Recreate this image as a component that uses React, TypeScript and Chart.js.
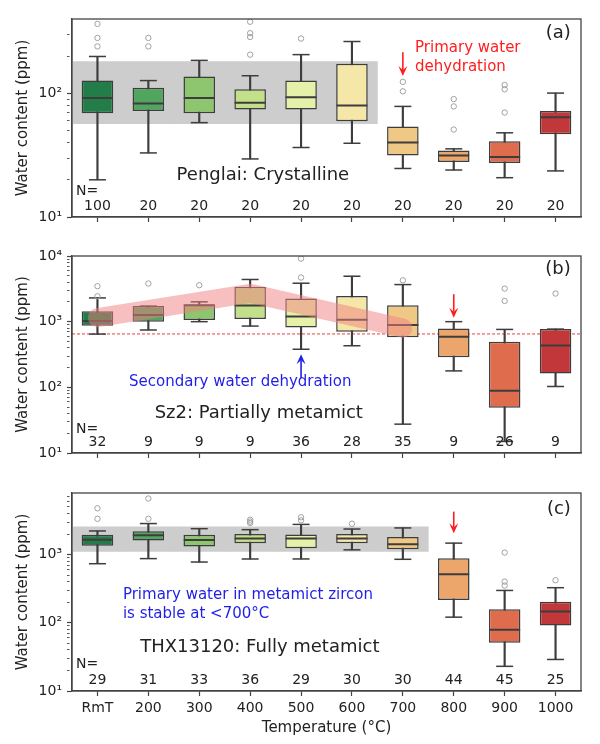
import React, { useEffect, useRef } from "react";
import { Chart, registerables } from "chart.js";

Chart.register(...registerables);
Chart.defaults.font.family = "'DejaVu Sans', sans-serif";

const temps = ["RmT", "200", "300", "400", "500", "600", "700", "800", "900", "1000"];
const boxColors = ["#237d48", "#52a55f", "#8dc66f", "#c3df8a", "#e5f1a8", "#f5e7a8", "#f0c886", "#eca56a", "#df6d4d", "#c2383a"];

// (a) Penglai: crystalline
const lowA = [20, 33, 58, 29.5, 36.5, 39.5, 24.7, 24, 20.8, 23.6];
const q1A = [69, 72, 69, 74, 74, 59.5, 31.5, 27.9, 27.4, 46.7];
const medA = [92, 83, 92, 84, 93, 80, 40, 31.5, 30.6, 64];
const q3A = [127, 111, 137, 108, 127, 174, 54, 34.5, 41, 72];
const highA = [199, 127, 185, 139, 206, 263, 78.5, 35.6, 48, 100.6];
const outA = [[365, 281, 240], [281, 240], [], [380, 307, 286, 206], [278], [], [124, 104], [90, 78.5, 51], [117, 108, 70], []];
const nA = [100, 20, 20, 20, 20, 20, 20, 20, 20, 20];
const bandA = [57, 181];

// (b) Sz2: partially metamict
const lowB = [647, 747, 1000, 857, 380, 430, 27.5, 178, 15, 103];
const q1B = [867, 1000, 1057, 1097, 818, 703, 577, 286, 49, 162];
const medB = [1020, 1260, 1780, 1766, 1200, 1070, 887, 590, 89, 435];
const q3B = [1445, 1726, 1830, 3390, 2255, 2470, 1780, 789, 495, 771];
const highB = [2300, 1726, 2005, 4390, 3850, 4920, 3670, 1000, 762, 771];
const outB = [[3470, 2440], [3810], [3590], [], [9130, 4700], [], [4260], [], [3190, 2070], [2680]];
const nB = [32, 9, 9, 9, 36, 28, 35, 9, 26, 9];
const trendB = [1150, null, null, 2700, null, null, 800, null, null, null];
const dashB = 650;

// (c) THX13120: fully metamict
const lowC = [735, 873, 778, 862, 863, 1175, 853, 121, 23, 29];
const q1C = [1345, 1615, 1315, 1472, 1243, 1472, 1200, 215, 51, 91];
const medC = [1650, 1915, 1635, 1722, 1722, 1722, 1422, 516, 79, 146];
const q3C = [1960, 2200, 1960, 2000, 1973, 2000, 1808, 883, 158, 203];
const highC = [2220, 2850, 2400, 2320, 2770, 2370, 2460, 1473, 298, 327];
const outC = [[4770, 3350], [6640, 3350], [], [3250, 3050, 2900], [3520, 3180], [2840], [], [], [1070, 402, 351], [421]];
const nC = [29, 31, 33, 36, 29, 30, 30, 44, 45, 25];
const bandC = [1110, 2550];

const decades = [10, 100, 1000, 10000];
const sup: Record<number, string> = { 10: "10¹", 100: "10²", 1000: "10³", 10000: "10⁴" };

function logTicks(max: number) {
  const out: number[] = [];
  for (const d of [10, 100, 1000]) for (let k = 1; k <= 9; k++) if (k * d < max) out.push(k * d);
  if (10000 <= max) out.push(10000);
  return out;
}

type Txt = { t: string; i: number; v: number; color?: string; size?: number; align?: CanvasTextAlign };
type Arrow = { i: number; from: number; to: number; color: string };

type PanelDef = {
  low: number[]; q1: number[]; med: number[]; q3: number[]; high: number[];
  out: number[][]; n: number[]; nY: number; nLabelY: number;
  yMax: number; band?: number[]; bandCount?: number;
  trend?: (number | null)[]; dash?: number;
  texts: Txt[]; arrows: Arrow[];
  showX: boolean; padTop: number; xHeight: number; height: number;
};

const RED = "#ff1e1e";
const BLUE = "#1f1fe8";
const EDGE = "#3d3d3d";

const panelA: PanelDef = {
  low: lowA, q1: q1A, med: medA, q3: q3A, high: highA, out: outA, n: nA, nY: 12.1, nLabelY: 16.2,
  yMax: 400, band: bandA, bandCount: 6,
  texts: [
    { t: "Penglai: Crystalline", i: 3.25, v: 21.8, size: 18, align: "center" },
    { t: "Primary water", i: 6.24, v: 232, color: RED, size: 15 },
    { t: "dehydration", i: 6.24, v: 163, color: RED, size: 15 },
    { t: "(a)", i: 9.3, v: 305, size: 18, align: "right" },
  ],
  arrows: [{ i: 6, from: 215, to: 138, color: RED }],
  showX: false, padTop: 19, xHeight: 19, height: 236,
};

const panelB: PanelDef = {
  low: lowB, q1: q1B, med: medB, q3: q3B, high: highB, out: outB, n: nB, nY: 14.4, nLabelY: 23.2,
  yMax: 10000, trend: trendB, dash: dashB,
  texts: [
    { t: "Secondary water dehydration", i: 0.62, v: 122, color: BLUE, size: 15 },
    { t: "Sz2: Partially metamict", i: 3.17, v: 40.6, size: 18, align: "center" },
    { t: "(b)", i: 9.3, v: 6290, size: 18, align: "right" },
  ],
  arrows: [
    { i: 7, from: 2620, to: 1150, color: RED },
    { i: 4, from: 140, to: 320, color: BLUE },
  ],
  showX: false, padTop: 20, xHeight: 19, height: 236,
};

const panelC: PanelDef = {
  low: lowC, q1: q1C, med: medC, q3: q3C, high: highC, out: outC, n: nC, nY: 14.1, nLabelY: 24.3,
  yMax: 8000, band: bandC, bandCount: 7,
  texts: [
    { t: "Primary water in metamict zircon", i: 0.5, v: 254, color: BLUE, size: 15 },
    { t: "is stable at <700°C", i: 0.5, v: 133, color: BLUE, size: 15 },
    { t: "THX13120: Fully metamict", i: 3.19, v: 43.8, size: 18, align: "center" },
    { t: "(c)", i: 9.3, v: 4670, size: 18, align: "right" },
  ],
  arrows: [{ i: 7, from: 4270, to: 2050, color: RED }],
  showX: true, padTop: 21, xHeight: 53, height: 272,
};

function drawArrow(ctx: CanvasRenderingContext2D, x: number, y1: number, y2: number, color: string) {
  const dir = Math.sign(y2 - y1);
  const hl = 10, hw = 4.5;
  ctx.save();
  ctx.strokeStyle = color;
  ctx.fillStyle = color;
  ctx.lineWidth = 1.6;
  ctx.beginPath();
  ctx.moveTo(x, y1);
  ctx.lineTo(x, y2 - dir * hl * 0.6);
  ctx.stroke();
  ctx.beginPath();
  ctx.moveTo(x, y2);
  ctx.lineTo(x - hw, y2 - dir * hl);
  ctx.lineTo(x, y2 - dir * hl * 0.6);
  ctx.lineTo(x + hw, y2 - dir * hl);
  ctx.closePath();
  ctx.fill();
  ctx.restore();
}

function buildConfig(p: PanelDef): any {
  const yTicks = logTicks(p.yMax);
  const datasets: any[] = [];
  if (p.band) {
    datasets.push({
      type: "bar", data: temps.map((_, k) => (k < (p.bandCount || 0) ? [p.band![0], p.band![1]] : null)),
      backgroundColor: "#cdcdcd", borderWidth: 0, grouped: false, categoryPercentage: 1, barPercentage: 1, order: 6,
    });
  }
  datasets.push({
    type: "bar", data: temps.map((_, k) => [p.low[k], p.high[k]]),
    backgroundColor: EDGE, barThickness: 1.5, grouped: false, order: 5,
  });
  datasets.push({
    type: "bar", data: temps.map((_, k) => [p.q1[k], p.q3[k]]),
    backgroundColor: boxColors, borderColor: EDGE, borderWidth: 1.5, borderSkipped: false,
    grouped: false, categoryPercentage: 1, barPercentage: 0.62, order: 4,
  });
  datasets.push({
    type: "line", data: p.med, showLine: false, pointStyle: "line", pointRadius: 15.5,
    pointBorderWidth: 2, pointBorderColor: EDGE, order: 3,
  });
  datasets.push({
    type: "line", showLine: false, pointStyle: "line", pointRadius: 8.5, pointBorderWidth: 1.5,
    pointBorderColor: EDGE, order: 3,
    data: temps.flatMap((t, k) => [{ x: t, y: p.low[k] }, { x: t, y: p.high[k] }]),
  });
  datasets.push({
    type: "line", showLine: false, pointStyle: "circle", pointRadius: 2.7, pointBorderWidth: 1,
    pointBorderColor: "#a0a0a0", pointBackgroundColor: "rgba(0,0,0,0)", order: 2,
    data: temps.flatMap((t, k) => p.out[k].map((v) => ({ x: t, y: v }))),
  });
  if (p.trend) {
    datasets.push({
      type: "line", data: p.trend, spanGaps: true, borderColor: "rgba(240,128,128,0.5)", borderWidth: 19,
      borderCapStyle: "round", borderJoinStyle: "round", pointRadius: 0, fill: false, order: 1,
    });
  }

  const decor = {
    id: "decor",
    beforeDatasetsDraw(chart: any) {
      if (p.dash === undefined) return;
      const { ctx, chartArea } = chart;
      const y = chart.scales.y.getPixelForValue(p.dash);
      ctx.save();
      ctx.strokeStyle = "rgba(235,40,40,0.9)";
      ctx.lineWidth = 1;
      ctx.setLineDash([3, 2]);
      ctx.beginPath();
      ctx.moveTo(chartArea.left, y);
      ctx.lineTo(chartArea.right, y);
      ctx.stroke();
      ctx.restore();
    },
    afterDraw(chart: any) {
      const { ctx, chartArea } = chart;
      const xs = chart.scales.x;
      const ys = chart.scales.y;
      ctx.save();
      ctx.strokeStyle = "#444";
      ctx.lineWidth = 1.3;
      ctx.strokeRect(chartArea.left, chartArea.top, chartArea.right - chartArea.left, chartArea.bottom - chartArea.top);
      ctx.textBaseline = "middle";
      ctx.fillStyle = "#222";
      ctx.font = "14px 'DejaVu Sans'";
      ctx.textAlign = "left";
      ctx.fillText("N=", xs.getPixelForValue(-0.42), ys.getPixelForValue(p.nLabelY));
      ctx.textAlign = "center";
      p.n.forEach((n, k) => ctx.fillText(String(n), xs.getPixelForValue(k), ys.getPixelForValue(p.nY)));
      for (const t of p.texts) {
        ctx.fillStyle = t.color || "#222";
        ctx.font = `${t.size || 14}px 'DejaVu Sans'`;
        ctx.textAlign = t.align || "left";
        ctx.fillText(t.t, xs.getPixelForValue(t.i), ys.getPixelForValue(t.v));
      }
      ctx.restore();
      for (const a of p.arrows) {
        drawArrow(ctx, xs.getPixelForValue(a.i), ys.getPixelForValue(a.from), ys.getPixelForValue(a.to), a.color);
      }
    },
  };

  return {
    type: "bar",
    data: { labels: temps, datasets },
    plugins: [decor],
    options: {
      responsive: false,
      animation: false,
      events: [],
      layout: { padding: { top: p.padTop, right: 19, left: 0, bottom: 0 } },
      plugins: { legend: { display: false }, tooltip: { enabled: false } },
      scales: {
        x: {
          type: "category", offset: true,
          grid: { display: true, drawOnChartArea: false, offset: false, tickLength: 5, tickWidth: 1.2, tickColor: "#444" },
          border: { display: true, color: "#444", width: 1.3 },
          ticks: { display: p.showX, color: "#222", font: { size: 14 }, padding: 4, maxRotation: 0, autoSkip: false },
          title: { display: p.showX, text: "Temperature (°C)", color: "#222", font: { size: 15 }, padding: { top: 0, bottom: 7 } },
          afterFit: (s: any) => { s.height = p.xHeight; },
        },
        y: {
          type: "logarithmic", min: 10, max: p.yMax,
          grid: {
            drawOnChartArea: false, tickLength: 5, tickColor: "#444",
            tickWidth: (c: any) => (decades.includes(c.tick?.value) ? 1.2 : 0.9),
            tickBorderDash: (c: any) => (decades.includes(c.tick?.value) ? [] : [2.5, 20]),
          },
          border: { color: "#444", width: 1.3 },
          ticks: {
            autoSkip: false, color: "#222", font: { size: 14 }, padding: 5,
            callback: (v: any) => sup[Number(v)] || "",
          },
          afterBuildTicks: (s: any) => { s.ticks = yTicks.map((v) => ({ value: v })); },
          afterFit: (s: any) => { s.width = 72; },
          title: { display: true, text: "Water content (ppm)", color: "#222", font: { size: 15 }, padding: { top: 14, bottom: 0 } },
        },
      },
    },
  };
}

function Panel({ def, top }: { def: PanelDef; top: number }) {
  const ref = useRef<HTMLCanvasElement>(null);
  useEffect(() => {
    if (!ref.current) return;
    const chart = new Chart(ref.current, buildConfig(def));
    return () => chart.destroy();
  }, [def]);
  return (
    <div style={{ position: "absolute", left: 0, top, width: 600, height: def.height }}>
      <canvas ref={ref} width={600} height={def.height} style={{ width: 600, height: def.height }} />
    </div>
  );
}

export default function App() {
  return (
    <div style={{ position: "absolute", left: 0, top: 0, width: 600, height: 744, background: "#fff" }}>
      <Panel def={panelA} top={0} />
      <Panel def={panelB} top={236} />
      <Panel def={panelC} top={472} />
    </div>
  );
}
